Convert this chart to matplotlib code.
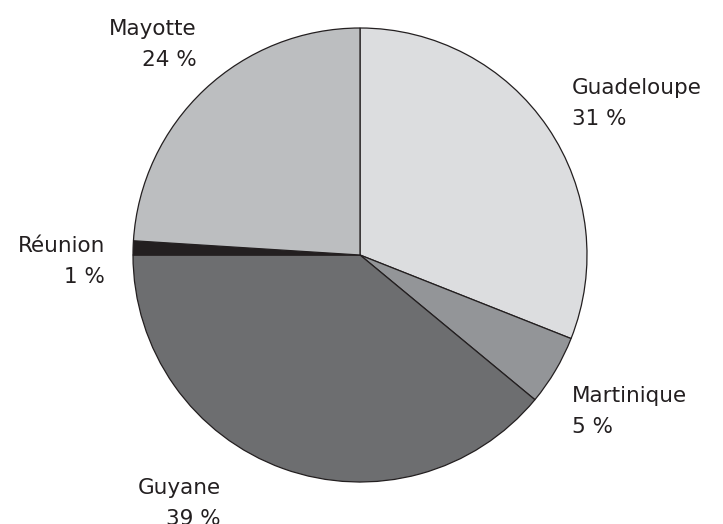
import matplotlib
matplotlib.use("Agg")
import matplotlib.pyplot as plt

regions = ["Guadeloupe", "Martinique", "Guyane", "Réunion", "Mayotte"]
shares = [31, 5, 39, 1, 24]
colors = ["#dcdddf", "#939598", "#6d6e70", "#231f20", "#bcbec0"]

plt.rcParams["font.family"] = ["DejaVu Sans"]

W, H = 723, 524
fig = plt.figure(figsize=(W / 100, H / 100), dpi=100)
cx, cy, r = 360, 255, 227
ax = fig.add_axes([(cx - r) / W, (H - cy - r) / H, 2 * r / W, 2 * r / H])
ax.pie(shares, colors=colors, startangle=90, counterclock=False,
       wedgeprops=dict(edgecolor="#231f20", linewidth=0.9))
ax.set_xlim(-1, 1)
ax.set_ylim(-1, 1)
ax.axis("off")

# label placement in pixel coords (x, y of text top, alignment)
label_pos = {
    "Guadeloupe": (572, 78, "left"),
    "Martinique": (572, 386, "left"),
    "Guyane": (221, 478, "right"),
    "Réunion": (105, 236, "right"),
    "Mayotte": (197, 19, "right"),
}
for name, val in zip(regions, shares):
    x, y, ha = label_pos[name]
    fig.text(x / W, 1 - y / H, f"{name}\n{val} %", ha=ha, va="top",
             fontsize=15.5, color="#231f20", linespacing=1.7)

fig.savefig("out.png", dpi=100, facecolor="white")
